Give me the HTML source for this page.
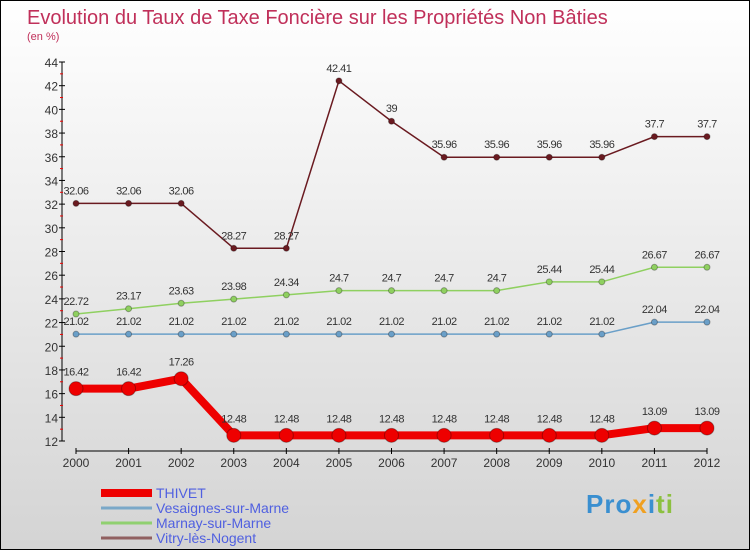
<!DOCTYPE html>
<html><head><meta charset="utf-8"><style>
body{margin:0}
#c{width:750px;height:550px;position:relative;box-sizing:border-box;border:1px solid #000;background:linear-gradient(#fff,#d4d4d4);font-family:"Liberation Sans",sans-serif;overflow:hidden}
</style></head><body>
<div id="c">
<svg id="s" width="750" height="550" style="position:absolute;left:0;top:0">
<text x="26" y="23" font-size="20" fill="#c0305a">Evolution du Taux de Taxe Foncière sur les Propriétés Non Bâties</text>
<text x="26" y="39" font-size="11" fill="#c0305a">(en %)</text>
<g id="g"></g>
</svg>
<div style="position:absolute;left:585px;top:488px;font-size:26px;font-weight:bold;letter-spacing:1px"><span style="color:#3a8fd0">Pro</span><span style="color:#f0a020">x</span><span style="color:#3a8fd0">i</span><span style="color:#8cc040">ti</span></div>
</div>
<script>
const years=[2000,2001,2002,2003,2004,2005,2006,2007,2008,2009,2010,2011,2012];
const thivet=[16.42,16.42,17.26,12.48,12.48,12.48,12.48,12.48,12.48,12.48,12.48,13.09,13.09];
const vesaignes=[21.02,21.02,21.02,21.02,21.02,21.02,21.02,21.02,21.02,21.02,21.02,22.04,22.04];
const marnay=[22.72,23.17,23.63,23.98,24.34,24.7,24.7,24.7,24.7,25.44,25.44,26.67,26.67];
const vitry=[32.06,32.06,32.06,28.27,28.27,42.41,39,35.96,35.96,35.96,35.96,37.7,37.7];
const yTicks=[12,14,16,18,20,22,24,26,28,30,32,34,36,38,40,42,44];
const NS="http://www.w3.org/2000/svg",g=document.getElementById('g');
const X=i=>75+i*(706-75)/12, Y=v=>440-(v-12)*(440-61)/32;
function el(t,a,p){const e=document.createElementNS(NS,t);for(const k in a)e.setAttribute(k,a[k]);(p||g).appendChild(e);return e}
let e=el('line',{x1:61,y1:61,x2:61,y2:440,stroke:'#000'});

e=el('line',{x1:75,y1:450,x2:706,y2:450,stroke:'#000'});

yTicks.forEach(v=>{el('line',{x1:58,y1:Y(v),x2:64,y2:Y(v),stroke:'#000'});
 if(v<44)el('line',{x1:59,y1:Y(v+1),x2:62,y2:Y(v+1),stroke:'#e00'});
 const t=el('text',{x:57,y:Y(v)+5,'font-size':12,fill:'#333','text-anchor':'end'});t.textContent=v;
 });
years.forEach((y,i)=>{el('line',{x1:X(i),y1:447,x2:X(i),y2:453,stroke:'#000'});
 const t=el('text',{x:X(i),y:466,'font-size':12,fill:'#333','text-anchor':'middle'});t.textContent=y;
 });
function series(d,col,w,r,name){
 const p=el('polyline',{points:d.map((v,i)=>X(i)+','+Y(v)).join(' '),fill:'none',stroke:col,'stroke-width':w,'stroke-linejoin':'round'});
 
 d.forEach((v,i)=>{const c=el('circle',{cx:X(i),cy:Y(v),r:r,fill:col,stroke:'rgba(0,0,0,0.3)'});
  
  const t=el('text',{x:X(i),y:Y(v)-(r+6),'font-size':11,fill:'#333','text-anchor':'middle','letter-spacing':'-0.5'});t.textContent=v;
  });
}
series(vesaignes,'#6a9fc8',1.5,3,'vesaignes');
series(marnay,'#8fd060',1.5,3,'marnay');
series(vitry,'#6a1a20',1.5,3,'vitry');
series(thivet,'#ee0000',8,7,'thivet');
const leg=[['THIVET','#ee0000',8],['Vesaignes-sur-Marne','#7aa8c8',3],['Marnay-sur-Marne','#90d070',3],['Vitry-lès-Nogent','#906060',3]];
leg.forEach((l,i)=>{const y=492+i*15;
 const ln=el('line',{x1:100,y1:y,x2:151,y2:y,stroke:l[1],'stroke-width':l[2]});
 
 const t=el('text',{x:155,y:y+5,'font-size':14,fill:'#5060e0'});t.textContent=l[0];
 });
</script>
</body></html>
